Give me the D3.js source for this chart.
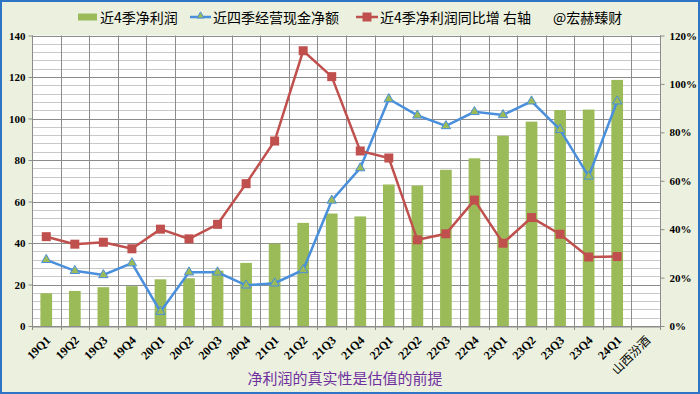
<!DOCTYPE html>
<html><head><meta charset="utf-8">
<script src="https://cdn.jsdelivr.net/npm/d3@7"></script>
<style>html,body{margin:0;padding:0;background:#EBF1DE;}svg{display:block;}</style>
</head><body><svg id="c" width="700" height="394"></svg>
<script>
const categories = ["19Q1","19Q2","19Q3","19Q4","20Q1","20Q2","20Q3","20Q4","21Q1","21Q2","21Q3","21Q4","22Q1","22Q2","22Q3","22Q4","23Q1","23Q2","23Q3","23Q4","24Q1","山西汾酒"];
const netProfit = [15.8,16.9,18.7,19.2,22.5,23.0,26.7,30.4,39.7,49.7,54.2,52.8,68.2,67.7,75.3,80.8,91.7,98.5,104.1,104.3,118.6,null];
const opCash = [31.9,26.6,24.6,30.3,6.9,25.9,25.9,19.6,20.6,27.0,60.5,76.1,109.4,101.5,96.4,103.2,101.7,108.3,94.6,72.1,108.3,null];
const growthPct = [36.9,33.8,34.6,31.9,40.0,36.0,42.0,58.8,76.4,113.7,103.0,72.3,69.4,35.6,38.1,52.0,34.2,44.8,37.9,28.5,28.7,null];
const leftTicks = [0,20,40,60,80,100,120,140];
const rightTicks = [0,20,40,60,80,100,120];
const legendLabels = ["近4季净利润","近四季经营现金净额","近4季净利润同比增 右轴","@宏赫臻财"];
const title = "净利润的真实性是估值的前提";

const W=700,H=394;
const m={l:32,r:660,t:35.5,b:326};
const svg=d3.select("#c");
const GREEN="#9BBB59",BLUE="#4A8FDB",RED="#C0504D";
const serif="'Liberation Serif','Times New Roman',serif";
const cjk="'Noto Sans CJK SC','Noto Sans',sans-serif";

svg.append("rect").attr("x",0).attr("y",0).attr("width",W).attr("height",H).attr("fill","#EBF1DE");
svg.append("rect").attr("x",1).attr("y",1).attr("width",W-2).attr("height",H-2).attr("fill","none").attr("stroke","#2E75C6").attr("stroke-width",2);

const x=d3.scaleBand().domain(categories).range([m.l,m.r]).paddingInner(0).paddingOuter(0);
const yL=d3.scaleLinear().domain([0,140]).range([m.b,m.t]);
const yR=d3.scaleLinear().domain([0,120]).range([m.b,m.t]);

svg.append("rect").attr("x",m.l).attr("y",m.t).attr("width",m.r-m.l).attr("height",m.b-m.t).attr("fill","#fff");

// minor gridlines
const minor=d3.range(0,141,4).filter(v=>v%20!==0);
svg.append("g").selectAll("line").data(minor).join("line")
 .attr("x1",m.l).attr("x2",m.r).attr("y1",d=>Math.round(yL(d))+0.5).attr("y2",d=>Math.round(yL(d))+0.5)
 .attr("stroke","#C8C8C8").attr("stroke-width",1);
// major gridlines
svg.append("g").selectAll("line").data(leftTicks).join("line")
 .attr("x1",m.l).attr("x2",m.r).attr("y1",d=>Math.round(yL(d))+0.5).attr("y2",d=>Math.round(yL(d))+0.5)
 .attr("stroke","#8C8C8C").attr("stroke-width",1);
// vertical gridlines
const bounds=categories.map(c=>x(c)).concat([m.r]);
svg.append("g").selectAll("line").data(bounds).join("line")
 .attr("x1",d=>Math.round(d)+0.5).attr("x2",d=>Math.round(d)+0.5).attr("y1",m.t).attr("y2",m.b)
 .attr("stroke","#8C8C8C").attr("stroke-width",1);

// axes
const axL=d3.axisLeft(yL).tickValues(leftTicks).tickSize(4).tickPadding(3).tickFormat(d3.format("d"));
const gL=svg.append("g").attr("transform",`translate(${m.l+0.5},0)`).call(axL);
const axR=d3.axisRight(yR).tickValues(rightTicks).tickSize(4).tickPadding(5).tickFormat(d=>d+"%");
const gR=svg.append("g").attr("transform",`translate(${m.r+0.5},0)`).call(axR);
const axB=d3.axisBottom(x).tickSize(0).tickFormat("");
const gB=svg.append("g").attr("transform",`translate(0,${m.b+0.5})`).call(axB);
svg.append("g").selectAll("line").data(bounds).join("line")
 .attr("x1",d=>Math.round(d)+0.5).attr("x2",d=>Math.round(d)+0.5).attr("y1",m.b).attr("y2",m.b+4)
 .attr("stroke","#8C8C8C");
[gL,gR,gB].forEach(g=>{
  g.select(".domain").attr("stroke","#8C8C8C");
  g.selectAll(".tick line").attr("stroke","#8C8C8C");
  g.selectAll("text").attr("font-family",serif).attr("font-weight","bold").attr("font-size",11).attr("fill","#000");
});
gR.select(".domain").attr("d",`M0,${m.t}V${m.b}`);
gL.select(".domain").attr("d",`M0,${m.t}V${m.b}`);

// x labels rotated
svg.append("g").selectAll("text").data(categories).join("text")
 .attr("transform",d=>`translate(${x(d)+x.bandwidth()/2+3},${m.b+13}) rotate(-45)`)
 .attr("text-anchor","end").attr("dominant-baseline","middle")
 .attr("font-family",d=>/^[0-9]/.test(d)?serif:cjk)
 .attr("font-weight",d=>/^[0-9]/.test(d)?"bold":"normal")
 .attr("font-size",12).attr("fill","#000").text(d=>d);

// bars
const bw=x.bandwidth()*0.41;
svg.append("g").selectAll("rect").data(categories.map((c,i)=>({c,v:netProfit[i]})).filter(d=>d.v!=null)).join("rect")
 .attr("x",d=>x(d.c)+x.bandwidth()/2-bw/2).attr("width",bw)
 .attr("y",d=>yL(d.v)).attr("height",d=>yL(0)-yL(d.v)).attr("fill",GREEN);

// blue line
const cx=c=>x(c)+x.bandwidth()/2;
const blueData=categories.map((c,i)=>({c,v:opCash[i]})).filter(d=>d.v!=null);
svg.append("path").datum(blueData).attr("fill","none").attr("stroke",BLUE).attr("stroke-width",2.5)
 .attr("d",d3.line().x(d=>cx(d.c)).y(d=>yL(d.v)));
const tri=d3.symbol().type(d3.symbolTriangle).size(38);
svg.append("g").selectAll("path").data(blueData).join("path")
 .attr("transform",d=>`translate(${cx(d.c)},${yL(d.v)})`).attr("d",tri())
 .attr("fill",GREEN).attr("stroke",BLUE).attr("stroke-width",1);

// red line
const redData=categories.map((c,i)=>({c,v:growthPct[i]})).filter(d=>d.v!=null);
svg.append("path").datum(redData).attr("fill","none").attr("stroke",RED).attr("stroke-width",2.5)
 .attr("d",d3.line().x(d=>cx(d.c)).y(d=>yR(d.v)));
svg.append("g").selectAll("rect").data(redData).join("rect")
 .attr("x",d=>cx(d.c)-4.5).attr("y",d=>yR(d.v)-4.5).attr("width",9).attr("height",9).attr("fill",RED);

// legend
const lg=svg.append("g").attr("font-family",cjk).attr("font-size",14).attr("fill","#000");
const ly=17;
lg.append("rect").attr("x",78).attr("y",ly-3.5).attr("width",19).attr("height",7).attr("fill",GREEN);
lg.append("text").attr("x",100).attr("y",ly).attr("dominant-baseline","central").text(legendLabels[0]);
lg.append("line").attr("x1",190).attr("x2",211).attr("y1",ly).attr("y2",ly).attr("stroke",BLUE).attr("stroke-width",2.5);
lg.append("path").attr("transform",`translate(200.5,${ly-1})`).attr("d",d3.symbol().type(d3.symbolTriangle).size(22)()).attr("fill",GREEN).attr("stroke",BLUE);
lg.append("text").attr("x",213).attr("y",ly).attr("dominant-baseline","central").text(legendLabels[1]);
lg.append("line").attr("x1",356).attr("x2",378).attr("y1",ly).attr("y2",ly).attr("stroke",RED).attr("stroke-width",2.5);
lg.append("rect").attr("x",362.5).attr("y",ly-4.5).attr("width",9).attr("height",9).attr("fill",RED);
lg.append("text").attr("x",380).attr("y",ly).attr("dominant-baseline","central").text(legendLabels[2]);
lg.append("text").attr("x",553).attr("y",ly).attr("dominant-baseline","central").text(legendLabels[3]);

// title
svg.append("text").attr("x",345).attr("y",384).attr("text-anchor","middle")
 .attr("font-family",cjk).attr("font-size",15).attr("fill","#7030A0").text(title);
</script></body></html>
